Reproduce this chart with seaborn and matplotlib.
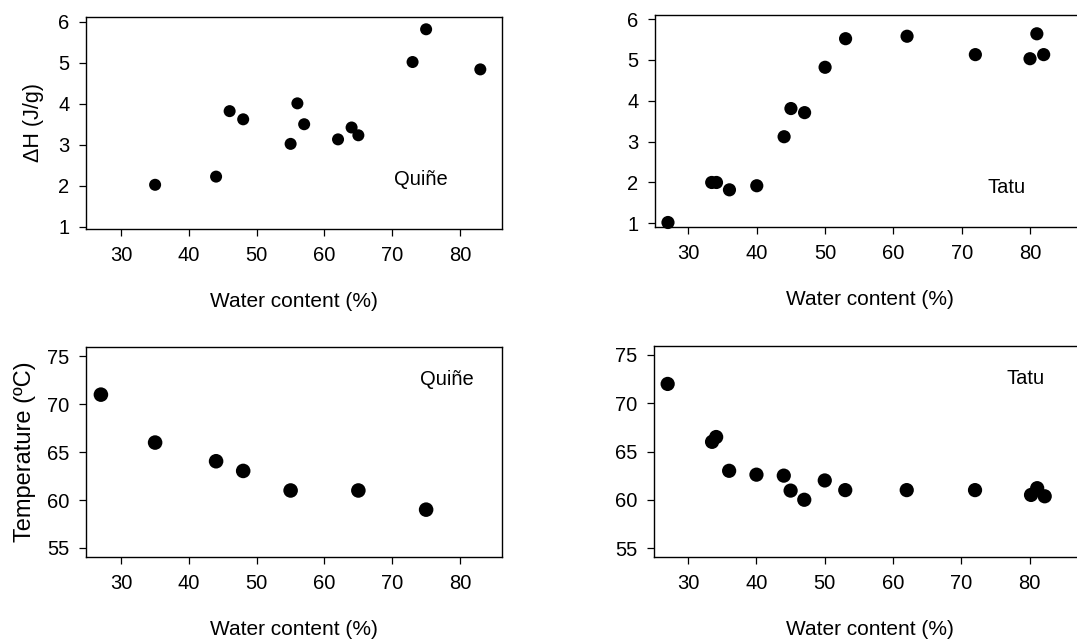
import matplotlib
matplotlib.use("Agg")
import matplotlib.pyplot as plt
import seaborn as sns

sns.set_theme(style="ticks")
plt.rcParams['font.family'] = ['Liberation Sans', 'DejaVu Sans']
plt.rcParams['text.color'] = 'black'
plt.rcParams['axes.labelcolor'] = 'black'
plt.rcParams['xtick.color'] = 'black'
plt.rcParams['ytick.color'] = 'black'

# --- Data ---
quine_dh_water = [35, 44, 46, 48, 55, 56, 57, 62, 64, 65, 73, 75, 83]
quine_dh = [2.02, 2.22, 3.82, 3.62, 3.02, 4.01, 3.50, 3.13, 3.42, 3.23, 5.02, 5.82, 4.84]

tatu_dh_water = [27, 33.4, 34.1, 36, 40, 44, 45, 47, 50, 53, 62, 72, 80, 81, 82]
tatu_dh = [1.02, 2.0, 2.0, 1.82, 1.92, 3.12, 3.81, 3.71, 4.82, 5.52, 5.58, 5.13, 5.03, 5.64, 5.13]

quine_t_water = [27, 35, 44, 48, 55, 65, 75]
quine_t = [71.0, 66.0, 64.05, 63.04, 61.0, 61.0, 59.0]

tatu_t_water = [27, 33.5, 34.1, 36, 40, 44, 45, 47, 50, 53, 62, 72, 80.2, 81.1, 82.2]
tatu_t = [72.0, 66.0, 66.5, 63.0, 62.6, 62.5, 60.95, 60.0, 62.0, 61.0, 61.0, 61.0, 60.5, 61.2, 60.36]

x_ticks = [30, 40, 50, 60, 70, 80]
dh_ticks = [1, 2, 3, 4, 5, 6]
t_ticks = [55, 60, 65, 70, 75]

W, H = 1077, 639
fig = plt.figure(figsize=(W / 100, H / 100), dpi=100)

def px_axes(left, top, right, bottom):
    return fig.add_axes([left / W, 1 - bottom / H, (right - left) / W, (bottom - top) / H])

ax_tl = px_axes(86, 17, 502, 229)
ax_tr = px_axes(655, 15, 1085, 227)
ax_bl = px_axes(86, 347, 502, 557)
ax_br = px_axes(654, 346, 1085, 557)

panels = [
    (ax_tl, quine_dh_water, quine_dh, (24.8, 86.2), (0.94, 6.12), dh_ticks, 'Quiñe', (74.2, 2.14), 75),
    (ax_tr, tatu_dh_water, tatu_dh, (25.1, 88.05), (0.91, 6.10), dh_ticks, 'Tatu', (76.5, 1.87), 90),
    (ax_bl, quine_t_water, quine_t, (24.8, 86.2), (54.06, 75.97), t_ticks, 'Quiñe', (78.0, 72.6), 110),
    (ax_br, tatu_t_water, tatu_t, (25.0, 88.1), (54.07, 75.93), t_ticks, 'Tatu', (79.4, 72.6), 105),
]

for ax, xs, ys, xl, yl, yt, lab, lpos, s in panels:
    sns.scatterplot(x=xs, y=ys, ax=ax, color='black', edgecolor='none', s=s, clip_on=False, zorder=3)
    ax.set_xlim(*xl)
    ax.set_ylim(*yl)
    ax.set_xticks(x_ticks)
    ax.set_yticks(yt)
    ax.tick_params(axis='both', direction='out', length=5, width=0.9, labelsize=14.5, pad=7, color='black')
    for sp in ax.spines.values():
        sp.set_linewidth(1.0)
        sp.set_color('black')
    ax.set_xlabel('Water content (%)', fontsize=15, labelpad=20)
    ax.text(lpos[0], lpos[1], lab, fontsize=14.5, ha='center', va='center')
    ax.set_facecolor('white')

ax_tl.set_ylabel('ΔH (J/g)', fontsize=15.5, labelpad=10)
ax_bl.set_ylabel('Temperature (ºC)', fontsize=17, labelpad=8)
ax_tr.set_ylabel('')
ax_br.set_ylabel('')

fig.savefig('out.png', dpi=100, facecolor='white')
